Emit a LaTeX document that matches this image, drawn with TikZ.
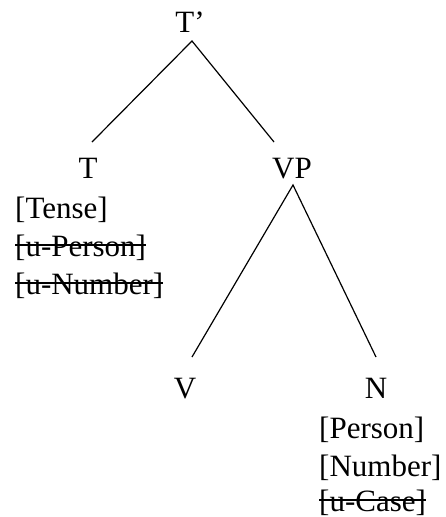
\documentclass[tikz,border=0pt]{standalone}
\usepackage{fontspec}
\setmainfont{Liberation Serif}
\begin{document}
\begin{tikzpicture}[x=1pt,y=-1pt,
  lab/.style={inner sep=0pt,anchor=base,font=\fontsize{31}{38}\selectfont},
  feat/.style={inner sep=0pt,anchor=base west,font=\fontsize{31}{38}\selectfont},
  edge/.style={line width=1.2pt},
  strike/.style={line width=1.2pt}]
\useasboundingbox (0,0) rectangle (446,517);
% labels
\node[lab] (Tp) at (190,32) {T’};
\node[lab] (T) at (88,178) {T};
\node[lab] (VP) at (292,178) {VP};
\node[lab] (V) at (185,398) {V};
\node[lab] (N) at (376,398) {N};
\node[feat] (tense) at (15,218) {[Tense]};
\node[feat] (uperson) at (15,256) {[u-Person]};
\node[feat] (unumber) at (15,294) {[u-Number]};
\node[feat] (person) at (319,438) {[Person]};
\node[feat] (number) at (319,476) {[Number]};
\node[feat] (ucase) at (319,511) {[u-Case]};
% connector end points
\coordinate (Tp-b) at (192,41);
\coordinate (T-t) at (92,142);
\coordinate (VP-t) at (274,142);
\coordinate (VP-b) at (293,185);
\coordinate (V-t) at (192,357);
\coordinate (N-t) at (376,357);
\draw[edge] (T-t) -- (Tp-b) -- (VP-t);
\draw[edge] (V-t) -- (VP-b) -- (N-t);
% strike-through
\foreach \n in {uperson,unumber,ucase}
  \draw[strike] ([yshift=11pt]\n.base west) -- ([yshift=11pt]\n.base east);
\end{tikzpicture}
\end{document}
